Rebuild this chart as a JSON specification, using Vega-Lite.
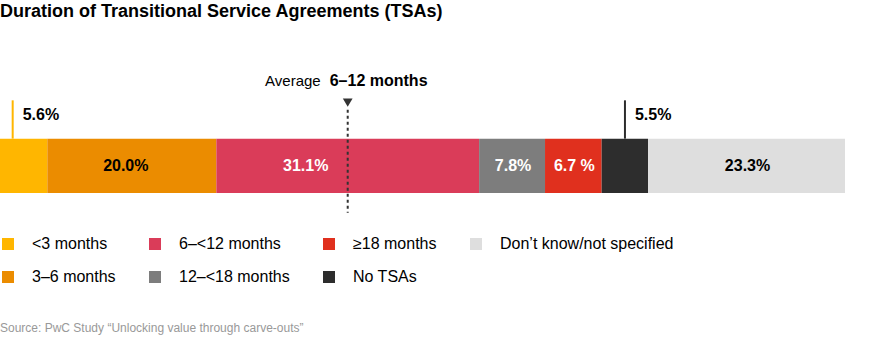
{
  "$schema": "https://vega.github.io/schema/vega-lite/v6.json",
  "autosize": {"type": "fit", "contains": "padding"},
  "width": 885,
  "height": 338,
  "padding": {"top": 3, "left": 0, "right": 0, "bottom": 0},
  "background": "white",
  "title": {"text": "Duration of Transitional Service Agreements (TSAs)", "anchor": "start", "fontSize": 18, "font": "Liberation Sans", "fontWeight": "bold", "color": "#000", "baseline": "top", "offset": 4},
  "config": {"view": {"stroke": null}, "text": {"font": "Liberation Sans"}},
  "data": {"values": [
    {"cat": "<3 months", "value": 5.6, "rank": 1, "label": "5.6%"},
    {"cat": "3–6 months", "value": 20.0, "rank": 2, "label": "20.0%"},
    {"cat": "6–<12 months", "value": 31.1, "rank": 3, "label": "31.1%"},
    {"cat": "12–<18 months", "value": 7.8, "rank": 4, "label": "7.8%"},
    {"cat": "≥18 months", "value": 6.7, "rank": 5, "label": "6.7 %"},
    {"cat": "No TSAs", "value": 5.5, "rank": 6, "label": "5.5%"},
    {"cat": "Don’t know/not specified", "value": 23.3, "rank": 7, "label": "23.3%"}
  ]},
  "transform": [
    {"stack": "value", "groupby": [], "sort": [{"field": "rank", "order": "ascending"}], "as": ["x0", "x1"]},
    {"calculate": "(datum.x0 + datum.x1) / 2", "as": "mid"}
  ],
  "layer": [
    {
      "mark": {"type": "rect"},
      "encoding": {
        "x": {"field": "x0", "type": "quantitative", "scale": {"domain": [0, 104.734], "nice": false, "zero": false}, "axis": null},
        "x2": {"field": "x1"},
        "y": {"datum": 0, "type": "quantitative", "scale": {"domain": [-2.665, 3.09], "nice": false, "zero": false}, "axis": null},
        "y2": {"datum": 1},
        "color": {
          "field": "cat", "type": "nominal",
          "scale": {
            "domain": ["<3 months", "3–6 months", "6–<12 months", "12–<18 months", "≥18 months", "No TSAs", "Don’t know/not specified"],
            "range": ["#FFB600", "#EB8C00", "#DA3C59", "#7D7D7D", "#E0301E", "#2D2D2D", "#DEDEDE"]
          },
          "legend": {
            "title": null, "orient": "none", "legendX": 0, "legendY": 211,
            "columns": 4, "columnPadding": 31, "rowPadding": 17, "gridAlign": "each",
            "symbolType": "square", "symbolSize": 144, "symbolStrokeWidth": 0,
            "labelFontSize": 16, "labelFont": "Liberation Sans", "labelColor": "#000", "labelOffset": 16, "labelLimit": 300
          }
        }
      }
    },
    {
      "transform": [{"filter": "datum.rank >= 4 && datum.value > 6"}],
      "mark": {"type": "text", "fontSize": 16, "fontWeight": "bold", "baseline": "middle", "align": "center", "dx": 1},
      "encoding": {
        "x": {"field": "mid", "type": "quantitative"},
        "y": {"datum": 0.5, "type": "quantitative"},
        "text": {"field": "label"},
        "color": {"condition": {"test": "datum.cat === '12–<18 months' || datum.cat === '≥18 months'", "value": "#FFFFFF"}, "value": "#000000"}
      }
    },
    {
      "transform": [{"filter": "datum.rank === 2"}],
      "mark": {"type": "text", "fontSize": 16, "fontWeight": "bold", "baseline": "middle", "align": "center", "dx": -6, "color": "#000000"},
      "encoding": {
        "x": {"field": "mid", "type": "quantitative"},
        "y": {"datum": 0.5, "type": "quantitative"},
        "text": {"field": "label"}
      }
    },
    {
      "transform": [{"filter": "datum.rank === 3"}],
      "mark": {"type": "text", "fontSize": 16, "fontWeight": "bold", "baseline": "middle", "align": "center", "dx": -42, "color": "#FFFFFF"},
      "encoding": {
        "x": {"field": "mid", "type": "quantitative"},
        "y": {"datum": 0.5, "type": "quantitative"},
        "text": {"field": "label"}
      }
    },
    {
      "data": {"values": [{}]},
      "mark": {"type": "rule", "color": "#FFB600", "strokeWidth": 2},
      "encoding": {"x": {"datum": 1.5, "type": "quantitative"}, "y": {"datum": 1, "type": "quantitative"}, "y2": {"datum": 1.705}}
    },
    {
      "data": {"values": [{}]},
      "mark": {"type": "rule", "color": "#2D2D2D", "strokeWidth": 2},
      "encoding": {"x": {"datum": 73.96, "type": "quantitative"}, "y": {"datum": 1, "type": "quantitative"}, "y2": {"datum": 1.705}}
    },
    {
      "data": {"values": [{"t": "5.6%"}]},
      "mark": {"type": "text", "fontSize": 16, "fontWeight": "bold", "align": "left", "baseline": "alphabetic", "dx": 10, "color": "#000"},
      "encoding": {"x": {"datum": 1.5, "type": "quantitative"}, "y": {"datum": 1.35, "type": "quantitative"}, "text": {"field": "t"}}
    },
    {
      "data": {"values": [{"t": "5.5%"}]},
      "mark": {"type": "text", "fontSize": 16, "fontWeight": "bold", "align": "left", "baseline": "alphabetic", "dx": 10, "color": "#000"},
      "encoding": {"x": {"datum": 73.96, "type": "quantitative"}, "y": {"datum": 1.35, "type": "quantitative"}, "text": {"field": "t"}}
    },
    {
      "data": {"values": [{}]},
      "mark": {"type": "rule", "color": "#333333", "strokeWidth": 2, "strokeDash": [3, 3]},
      "encoding": {"x": {"datum": 41.15, "type": "quantitative"}, "y": {"datum": 1.534, "type": "quantitative"}, "y2": {"datum": -0.363}}
    },
    {
      "data": {"values": [{}]},
      "mark": {"type": "point", "shape": "triangle-down", "filled": true, "color": "#333333", "size": 95, "opacity": 1},
      "encoding": {"x": {"datum": 41.15, "type": "quantitative"}, "y": {"datum": 1.663, "type": "quantitative"}}
    },
    {
      "data": {"values": [{"t": "Average"}]},
      "mark": {"type": "text", "fontSize": 15, "align": "right", "baseline": "alphabetic", "dx": -27, "color": "#000"},
      "encoding": {"x": {"datum": 41.15, "type": "quantitative"}, "y": {"datum": 1.976, "type": "quantitative"}, "text": {"field": "t"}}
    },
    {
      "data": {"values": [{"t": "6–12 months"}]},
      "mark": {"type": "text", "fontSize": 16, "fontWeight": "bold", "align": "left", "baseline": "alphabetic", "dx": -18, "color": "#000"},
      "encoding": {"x": {"datum": 41.15, "type": "quantitative"}, "y": {"datum": 1.976, "type": "quantitative"}, "text": {"field": "t"}}
    },
    {
      "data": {"values": [{"t": "Source: PwC Study “Unlocking value through carve-outs”"}]},
      "mark": {"type": "text", "fontSize": 12, "align": "left", "baseline": "alphabetic", "color": "#999999"},
      "encoding": {"x": {"datum": 0, "type": "quantitative"}, "y": {"datum": -2.556, "type": "quantitative"}, "text": {"field": "t"}}
    }
  ]
}
